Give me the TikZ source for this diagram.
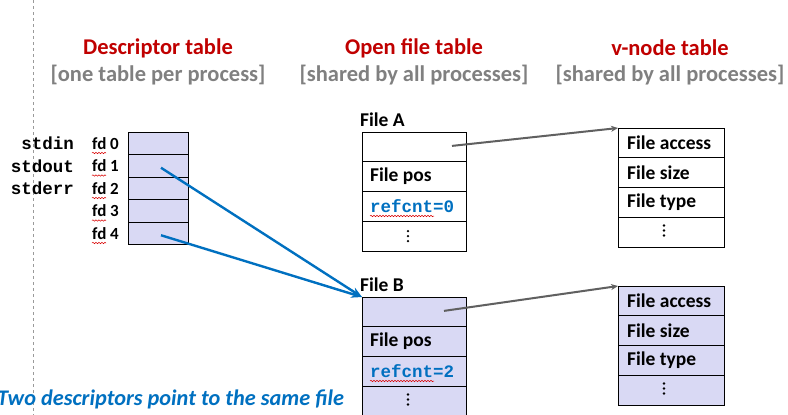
\documentclass[tikz,border=0pt]{standalone}
\usepackage{fontspec}
\setmainfont{Carlito}
\setmonofont{Liberation Mono}
\usetikzlibrary{arrows.meta,calc,decorations.pathmorphing}
\definecolor{lav}{RGB}{217,217,244}
\definecolor{hdred}{RGB}{192,0,0}
\definecolor{hdgray}{RGB}{128,128,128}
\definecolor{ptrblue}{RGB}{0,112,192}
\definecolor{ptrgray}{RGB}{96,96,96}
\tikzset{
  cell/.style={draw=black, line width=0.8pt, rectangle, inner sep=0pt, outer sep=0pt},
  fdcell/.style={cell, fill=lav, minimum width=60pt, minimum height=22.5pt},
  ofcell/.style={cell, minimum width=104pt, minimum height=29.75pt},
  vncell/.style={cell, minimum width=106pt, minimum height=29.75pt},
  hdr/.style={font=\fontsize{22.5}{26}\selectfont\bfseries, text=hdred},
  sub/.style={font=\fontsize{22.5}{26}\selectfont\bfseries, text=hdgray},
  lbl/.style={font=\fontsize{19.5}{23}\selectfont\bfseries, inner sep=0pt},
  fdlbl/.style={font=\fontsize{17}{20}\selectfont\bfseries, inner sep=0pt},
  mono/.style={font=\fontsize{17.5}{20}\selectfont\ttfamily\bfseries, inner sep=0pt},
  blueptr/.style={draw=ptrblue, line width=2.4pt, -{Stealth[length=11pt,width=8pt]}},
  grayptr/.style={draw=ptrgray, line width=2pt, -{Stealth[length=7pt,width=6pt]}},
  squiggle/.style={draw=red!85!black, line width=0.5pt, decorate,
    decoration={snake, amplitude=0.7pt, segment length=3pt}},
  dot/.style={fill=black, circle, inner sep=0pt, minimum size=2.6pt}
}
% three stacked dots marking the omitted rows
\newcommand{\moredots}[2]{%
  \foreach \k in {-5,0,5} \node[dot] at (#1,{#2+\k}) {};}
\begin{document}
\begin{tikzpicture}[x=1pt,y=-1pt]
\useasboundingbox (0,0) rectangle (788,415);

% margin guide
\draw[hdgray!80, line width=0.8pt, dash pattern=on 3pt off 3pt] (33,0) -- (33,415);

% column headings
\node[hdr] (h1) at (158,48) {Descriptor table};
\node[sub] (s1) at (158,75) {[one table per process]};
\node[hdr] (h2) at (414,48) {Open file table};
\node[sub] (s2) at (414,75) {[shared by all processes]};
\node[hdr] (h3) at (670,48) {v-node table};
\node[sub] (s3) at (670,75) {[shared by all processes]};

% descriptor table
\foreach \i in {0,...,4} {
  \node[fdcell] (fd\i) at (158,{143.25+22.5*\i}) {};
  \node[fdlbl, anchor=west] (fdl\i) at (92,{143.25+22.5*\i}) {fd \i};
  \draw[squiggle] (92,{153+22.5*\i}) -- (106,{153+22.5*\i});
}
\node[mono, anchor=east] (sin) at (74,143.25) {stdin};
\node[mono, anchor=east] (sout) at (74,165.75) {stdout};
\node[mono, anchor=east] (serr) at (74,188.25) {stderr};

% open file table, file A
\node[lbl, anchor=south west] (fAl) at (360,127) {File A};
\node[ofcell] (fA0) at (414,146.9) {};
\node[ofcell] (fA1) at (414,176.6) {};
\node[ofcell] (fA2) at (414,206.4) {};
\node[ofcell] (fA3) at (414,236.1) {};
\node[lbl, anchor=west] (fAp) at (370,176.6) {File pos};
\node[mono, anchor=west, text=ptrblue] (fAr) at (370,206.4) {refcnt=0};
\draw[squiggle] (370,216) -- (434,216);
\moredots{408}{236.1}

% open file table, file B
\node[lbl, anchor=south west] (fBl) at (360,292) {File B};
\node[ofcell, fill=lav] (fB0) at (414,311.9) {};
\node[ofcell, fill=lav] (fB1) at (414,341.6) {};
\node[ofcell, fill=lav] (fB2) at (414,371.4) {};
\node[ofcell, fill=lav] (fB3) at (414,401.1) {};
\node[lbl, anchor=west] (fBp) at (370,341.6) {File pos};
\node[mono, anchor=west, text=ptrblue] (fBr) at (370,371.4) {refcnt=2};
\draw[squiggle] (370,381) -- (434,381);
\moredots{408}{399.5}

% v-node table, file A
\node[vncell] (vA0) at (671,142.9) {};
\node[vncell] (vA1) at (671,172.6) {};
\node[vncell] (vA2) at (671,202.4) {};
\node[vncell] (vA3) at (671,232.1) {};
\node[lbl, anchor=west] (vAa) at (627,142.9) {File access};
\node[lbl, anchor=west] (vAs) at (627,172.6) {File size};
\node[lbl, anchor=west] (vAt) at (627,202.4) {File type};
\moredots{664}{230.5}

% v-node table, file B
\node[vncell, fill=lav] (vB0) at (671,300.9) {};
\node[vncell, fill=lav] (vB1) at (671,330.6) {};
\node[vncell, fill=lav] (vB2) at (671,360.4) {};
\node[vncell, fill=lav] (vB3) at (671,390.1) {};
\node[lbl, anchor=west] (vBa) at (627,300.9) {File access};
\node[lbl, anchor=west] (vBs) at (627,330.6) {File size};
\node[lbl, anchor=west] (vBt) at (627,360.4) {File type};
\moredots{664}{388.5}

% pointers
\draw[blueptr] ($(fd1.center)+(3,2)$) -- (fB0.north west);
\draw[blueptr] ($(fd4.center)+(3,2)$) -- (fB0.north west);
\draw[grayptr] ($(fA0.center)+(38,-1)$) -- (vA0.north west);
\draw[grayptr] ($(fB0.center)+(30,-1)$) -- (vB0.north west);

% caption
\node[font=\fontsize{22.3}{26}\selectfont\bfseries\itshape, text=ptrblue, anchor=base west, inner sep=0pt]
  (cap) at (-3,405) {Two descriptors point to the same file};
\end{tikzpicture}
\end{document}
